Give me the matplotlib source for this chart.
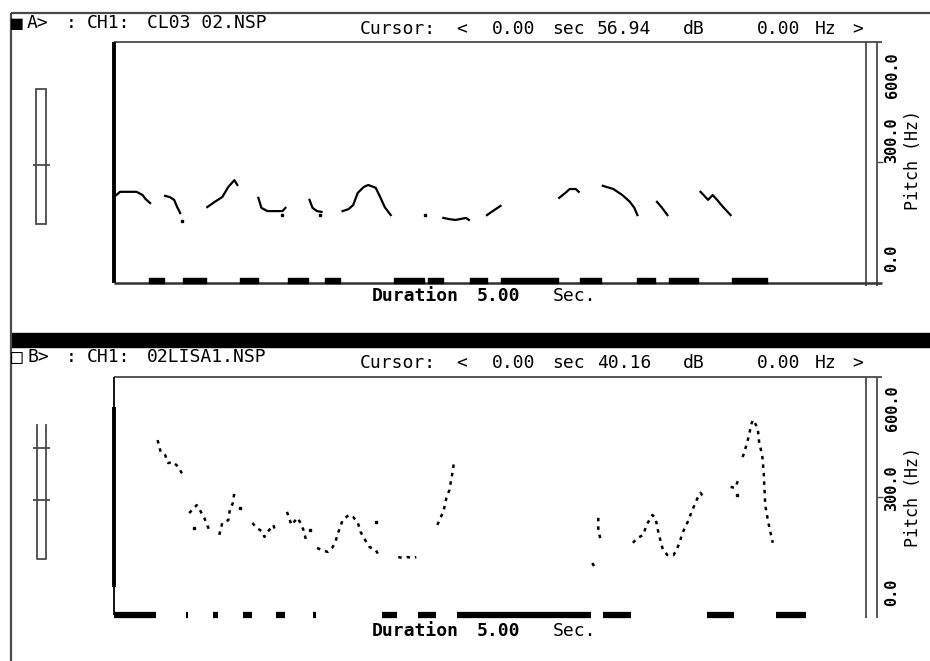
import matplotlib.pyplot as plt
from matplotlib.patches import Rectangle

W, H = 930, 661
DURATION = 5.0
FMAX = 600.0

# channel A pitch track: (seconds, Hz) per voiced stretch
a_times = [
    [0.01, 0.04, 0.11, 0.15, 0.19, 0.21, 0.24],
    [0.34, 0.37, 0.40, 0.42, 0.44],
    [0.62, 0.67, 0.72, 0.76, 0.80, 0.82],
    [0.96, 0.98, 1.02, 1.07, 1.12, 1.14],
    [1.30, 1.32, 1.35, 1.38],
    [1.52, 1.56, 1.59, 1.62, 1.66, 1.69, 1.74, 1.77, 1.80, 1.84],
    [2.19, 2.23, 2.27, 2.30, 2.34, 2.36],
    [2.48, 2.51, 2.55, 2.57],
    [2.96, 3.00, 3.03, 3.07, 3.09],
    [3.25, 3.32, 3.38, 3.43, 3.46, 3.48],
    [3.61, 3.64, 3.68],
    [3.90, 3.95, 3.98, 4.01, 4.05, 4.10],
]
a_pitch = [
    [217, 227, 227, 227, 219, 209, 199],
    [217, 214, 207, 189, 174],
    [189, 202, 214, 239, 256, 244],
    [212, 187, 179, 179, 179, 187],
    [207, 187, 179, 177],
    [179, 184, 194, 224, 239, 244, 237, 214, 189, 169],
    [162, 159, 157, 159, 162, 157],
    [169, 177, 187, 192],
    [212, 224, 234, 234, 227],
    [242, 234, 219, 202, 187, 169],
    [202, 189, 169],
    [227, 207, 219, 207, 189, 169],
]
a_dot_t = [0.45, 1.12, 1.37, 2.07]
a_dot_hz = [154, 169, 169, 169]
a_voiced_start = [0.23, 0.46, 0.84, 1.16, 1.40, 1.86, 2.09, 2.37, 2.57, 3.10, 3.48, 3.69, 4.11]
a_voiced_end = [0.33, 0.61, 0.96, 1.29, 1.50, 2.06, 2.19, 2.48, 2.95, 3.24, 3.60, 3.88, 4.34]

# channel B pitch track
b_times = [
    [0.29, 0.31, 0.34, 0.36, 0.39, 0.43, 0.45, 0.47],
    [0.50, 0.55, 0.57, 0.60, 0.63, 0.65],
    [0.70, 0.72, 0.76, 0.77, 0.79, 0.80],
    [0.92, 0.95, 0.98, 1.00, 1.02, 1.06, 1.07],
    [1.15, 1.18, 1.22, 1.24, 1.26, 1.28],
    [1.35, 1.38, 1.42, 1.45, 1.47, 1.49, 1.52, 1.56, 1.59, 1.62, 1.64, 1.67, 1.70, 1.74, 1.76],
    [1.89, 1.92, 1.95, 1.99, 2.01],
    [2.15, 2.17, 2.19, 2.21, 2.23, 2.25, 2.26],
    [3.18, 3.20],
    [3.22, 3.22, 3.24],
    [3.45, 3.48, 3.52, 3.54, 3.58, 3.60, 3.62, 3.65, 3.68, 3.72, 3.74, 3.76, 3.78, 3.82, 3.84, 3.88, 3.90, 3.92],
    [4.10, 4.13, 4.15],
    [4.18, 4.21, 4.24, 4.25, 4.28, 4.29, 4.31, 4.32, 4.33, 4.35, 4.38],
]
b_pitch = [
    [441, 411, 403, 383, 386, 373, 358, 348],
    [257, 277, 265, 245, 217, 217],
    [202, 232, 239, 265, 282, 308],
    [232, 219, 212, 197, 209, 227, 214],
    [260, 227, 245, 232, 214, 184],
    [169, 164, 159, 169, 182, 207, 239, 252, 247, 234, 209, 189, 171, 164, 151],
    [146, 144, 146, 144, 146],
    [227, 245, 260, 295, 315, 358, 383],
    [131, 118],
    [245, 214, 182],
    [182, 194, 202, 227, 252, 245, 207, 164, 151, 151, 164, 182, 207, 239, 260, 295, 308, 297],
    [323, 320, 340],
    [398, 434, 484, 492, 471, 434, 403, 358, 277, 234, 182],
]
b_dot_t = [0.53, 0.84, 1.30, 1.74, 4.14]
b_dot_hz = [219, 270, 214, 234, 303]
b_voiced_start = [0.00, 0.48, 0.66, 0.86, 1.08, 1.32, 1.78, 2.02, 2.28, 3.25, 3.94, 4.40]
b_voiced_end = [0.28, 0.49, 0.69, 0.92, 1.14, 1.34, 1.88, 2.14, 3.17, 3.44, 4.12, 4.60]

freq_labels = ["600.0", "300.0", "0.0"]

MONO = "DejaVu Sans Mono"
INK = "black"
RULE = "#4a4a4a"

fig = plt.figure(figsize=(W / 100, H / 100), dpi=100)
fig.patch.set_facecolor("white")

# screen chrome in pixel coordinates
ov = fig.add_axes([0, 0, 1, 1], zorder=0)
ov.set_xlim(0, W)
ov.set_ylim(H, 0)
ov.axis("off")


def rule(x0, y0, x1, y1, lw=1.3, color=RULE):
    ov.plot([x0, x1], [y0, y1], color=color, lw=lw, solid_capstyle="butt")


def txt(x, y, s, size=13, weight="normal", **kw):
    ov.text(x, y, s, fontsize=size, family=MONO, weight=weight,
            ha=kw.pop("ha", "left"), va="center", color=INK, **kw)


# outer frame and channel separator
rule(11, 13, W, 13, lw=1.6)
rule(11, 13, 11, H, lw=1.6)
ov.add_patch(Rectangle((11, 333), W - 11, 14, color=INK))


def panel_frame(top, bottom, title_y, cursor_y, label, fname, db, mark, tick_y,
                label_y, pitch_y, thick_span, axis_line):
    # title line
    txt(11, title_y, mark, size=14)
    txt(27, title_y, label)
    txt(66, title_y, ":")
    txt(87, title_y, "CH1:")
    txt(147, title_y, fname)
    # cursor readout
    for x, s in [(360, "Cursor:"), (456, "<"), (492, "0.00"), (552, "sec"),
                 (597, db), (683, "dB"), (757, "0.00"), (815, "Hz"), (852, ">")]:
        txt(x, cursor_y, s)
    # plot frame
    rule(114, top, 882, top)
    rule(866, top, 866, bottom + 3)
    rule(877, top, 877, bottom + 3)
    rule(877, tick_y, 883, tick_y, lw=1.0)
    rule(114, top, 114, bottom, lw=1.3, color=INK)
    rule(114, thick_span[0], 114, thick_span[1], lw=2.8, color=INK)
    if axis_line:
        rule(114, bottom, 882, bottom, lw=1.8, color="#333333")
    # frequency scale labels and axis title
    for s, y in zip(freq_labels, label_y):
        txt(892, y, s, size=11, rotation=90, ha="center", weight="bold")
    txt(913, pitch_y, "Pitch (Hz)", size=12, rotation=90, ha="center")
    # duration caption
    dur_y = bottom + 13 if axis_line else bottom + 16
    txt(372, dur_y, "Duration", weight="bold")
    txt(477, dur_y, "5.00", weight="bold")
    txt(553, dur_y, "Sec.")


panel_frame(42, 283, 23, 29, "A>", "CL03 02.NSP", "56.94", "\u25a0", 162,
            [75, 140, 258], 160, (42, 283), True)
panel_frame(377, 615, 357, 363, "B>", "02LISA1.NSP", "40.16", "\u25a1", 497,
            [408, 488, 592], 497, (407, 587), False)

# level sliders at the left
ov.add_patch(Rectangle((36, 89), 10, 135, fill=False, ec=RULE, lw=1.3))
rule(33, 165, 50, 165, lw=1.3)
ov.plot([37, 37, 46, 46], [425, 559, 559, 425], color=RULE, lw=1.3)
rule(33, 448, 50, 448, lw=1.3)
rule(33, 500, 50, 500, lw=1.3)


def data_axes(top, bottom):
    ax = fig.add_axes([114 / W, 1 - bottom / H, (866 - 114) / W, (bottom - top) / H], zorder=2)
    ax.set_xlim(0, DURATION)
    ax.set_ylim(0, FMAX)
    ax.patch.set_alpha(0)
    ax.axis("off")
    return ax


ax_a = data_axes(42, 283)
for t, hz in zip(a_times, a_pitch):
    ax_a.plot(t, hz, color=INK, lw=1.6)
ax_a.plot(a_dot_t, a_dot_hz, "s", ms=1.9, color=INK)
ax_a.broken_barh([(s, e - s) for s, e in zip(a_voiced_start, a_voiced_end)],
                 (0, 13), color=INK, clip_on=False)

ax_b = data_axes(377, 615)
for t, hz in zip(b_times, b_pitch):
    ax_b.plot(t, hz, color=INK, lw=1.8, ls=(0, (1.4, 2.0)))
ax_b.plot(b_dot_t, b_dot_hz, "s", ms=1.8, color=INK)
ax_b.hlines([0] * len(b_voiced_start), b_voiced_start, b_voiced_end,
            color=INK, lw=4.5, clip_on=False)

fig.savefig("out.png", dpi=100, facecolor="white")
